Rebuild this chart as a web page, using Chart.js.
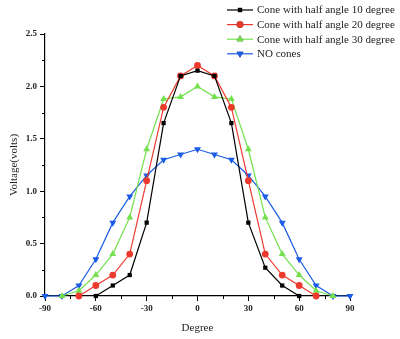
<!DOCTYPE html>
<html>
<head>
<meta charset="utf-8">
<script src="https://cdn.jsdelivr.net/npm/chart.js@4/dist/chart.umd.min.js"></script>
<style>
  html, body { margin: 0; padding: 0; background: #fff; }
  #wrap { width: 400px; height: 339px; }
</style>
</head>
<body>
<div id="wrap"><canvas id="chart"></canvas></div>
<script>
// Degree positions (x) and measured voltages per series
const degrees = [-90, -80, -70, -60, -50, -40, -30, -20, -10, 0, 10, 20, 30, 40, 50, 60, 70, 80, 90];
const cone10 = [null, null, null, 0, 0.1, 0.2, 0.7, 1.65, 2.1, 2.15, 2.1, 1.65, 0.7, 0.27, 0.1, 0, null, null, null];
const cone20 = [null, null, 0, 0.1, 0.2, 0.4, 1.1, 1.8, 2.1, 2.2, 2.1, 1.8, 1.1, 0.4, 0.2, 0.1, 0, null, null];
const cone30 = [null, 0, 0.05, 0.2, 0.4, 0.75, 1.4, 1.88, 1.9, 2.0, 1.9, 1.88, 1.4, 0.75, 0.4, 0.2, 0.05, 0, null];
const noCones = [0, 0, 0.1, 0.35, 0.7, 0.95, 1.15, 1.3, 1.35, 1.4, 1.35, 1.3, 1.15, 0.95, 0.7, 0.35, 0.1, 0, 0];
const seriesNames = ['Cone with half angle 10 degree', 'Cone with half angle 20 degree',
                     'Cone with half angle 30 degree', 'NO cones'];
const xTicks = [-90, -60, -30, 0, 30, 60, 90];
const yTicks = [0, 0.5, 1.0, 1.5, 2.0, 2.5];

const SERIF = '"Liberation Serif", "DejaVu Serif", serif';

function toPoints(vals) {
  return degrees.map((d, i) => ({ x: d, y: vals[i] }));
}

function makeSet(label, vals, color, style, radius, rotation) {
  return {
    label: label,
    data: toPoints(vals),
    borderColor: color,
    backgroundColor: color,
    borderWidth: 1.2,
    pointStyle: style,
    pointRadius: radius,
    pointRotation: rotation || 0,
    pointBorderWidth: 0,
    showLine: true,
    spanGaps: false,
    clip: false,
  };
}

// minor ticks + custom legend (lines with markers, top right)
const extrasPlugin = {
  id: 'extras',
  afterDraw(chart) {
    const ctx = chart.ctx;
    const xs = chart.scales.x, ys = chart.scales.y;
    ctx.save();
    ctx.strokeStyle = '#000';
    ctx.lineWidth = 1;
    for (let v = -75; v <= 75; v += 30) {
      const px = Math.round(xs.getPixelForValue(v)) + 0.5;
      ctx.beginPath();
      ctx.moveTo(px, xs.top);
      ctx.lineTo(px, xs.top + 3);
      ctx.stroke();
    }
    for (let v = 0.25; v < 2.5; v += 0.5) {
      const py = Math.round(ys.getPixelForValue(v)) + 0.5;
      ctx.beginPath();
      ctx.moveTo(ys.right - 3, py);
      ctx.lineTo(ys.right, py);
      ctx.stroke();
    }

    // legend
    const lx = 227, lw = 26, ty = 10, rowH = 14.6;
    ctx.font = '11px ' + SERIF;
    ctx.textBaseline = 'middle';
    ctx.textAlign = 'left';
    chart.data.datasets.forEach((ds, i) => {
      const y = ty + i * rowH;
      ctx.strokeStyle = ds.borderColor;
      ctx.lineWidth = 1.2;
      ctx.beginPath();
      ctx.moveTo(lx, y);
      ctx.lineTo(lx + lw, y);
      ctx.stroke();
      Chart.helpers.drawPoint(ctx, {
        pointStyle: ds.pointStyle,
        rotation: ds.pointRotation,
        borderWidth: 0,
        radius: ds.pointRadius,
      }, lx + lw / 2, y);
      ctx.fillStyle = ds.borderColor;
      ctx.fill();
      ctx.fillStyle = '#222';
      ctx.fillText(ds.label, lx + lw + 4, y + 0.5);
    });
    ctx.restore();
  }
};

new Chart(document.getElementById('chart'), {
  type: 'line',
  data: {
    datasets: [
      makeSet(seriesNames[0], cone10, '#000000', 'rect', 3),
      makeSet(seriesNames[1], cone20, '#ee3a2e', 'circle', 3.4),
      makeSet(seriesNames[2], cone30, '#74e04e', 'triangle', 4),
      makeSet(seriesNames[3], noCones, '#1a5ce6', 'triangle', 4, 180),
    ]
  },
  options: {
    responsive: true,
    maintainAspectRatio: false,
    animation: false,
    layout: { padding: { left: 0, right: 50, top: 34, bottom: 0 } },
    plugins: {
      legend: { display: false },
      tooltip: { enabled: false },
    },
    scales: {
      x: {
        type: 'linear',
        min: -90,
        max: 90,
        afterFit(scale) { scale.height = 43; },
        afterBuildTicks(scale) { scale.ticks = xTicks.map(v => ({ value: v })); },
        grid: { display: true, drawOnChartArea: false, drawTicks: true, tickLength: 5, color: '#000' },
        border: { display: true, color: '#000', width: 1.2 },
        ticks: {
          color: '#222',
          padding: 2,
          maxRotation: 0,
          font: { family: SERIF, size: 9, weight: 'bold' },
        },
        title: {
          display: true,
          text: 'Degree',
          color: '#222',
          font: { family: SERIF, size: 11 },
          padding: { top: 4, bottom: 4 },
        },
      },
      y: {
        type: 'linear',
        min: 0,
        max: 2.5,
        afterFit(scale) { scale.width = 45; },
        afterBuildTicks(scale) { scale.ticks = yTicks.map(v => ({ value: v })); },
        grid: { display: true, drawOnChartArea: false, drawTicks: true, tickLength: 5, color: '#000' },
        border: { display: true, color: '#000', width: 1.2 },
        ticks: {
          color: '#222',
          padding: 3,
          font: { family: SERIF, size: 9, weight: 'bold' },
          callback: (v) => Number(v).toFixed(1),
        },
        title: {
          display: true,
          text: 'Voltage(volts)',
          color: '#222',
          font: { family: SERIF, size: 11 },
          padding: { top: 8, bottom: 0 },
        },
      },
    },
  },
  plugins: [extrasPlugin],
});
</script>
</body>
</html>
